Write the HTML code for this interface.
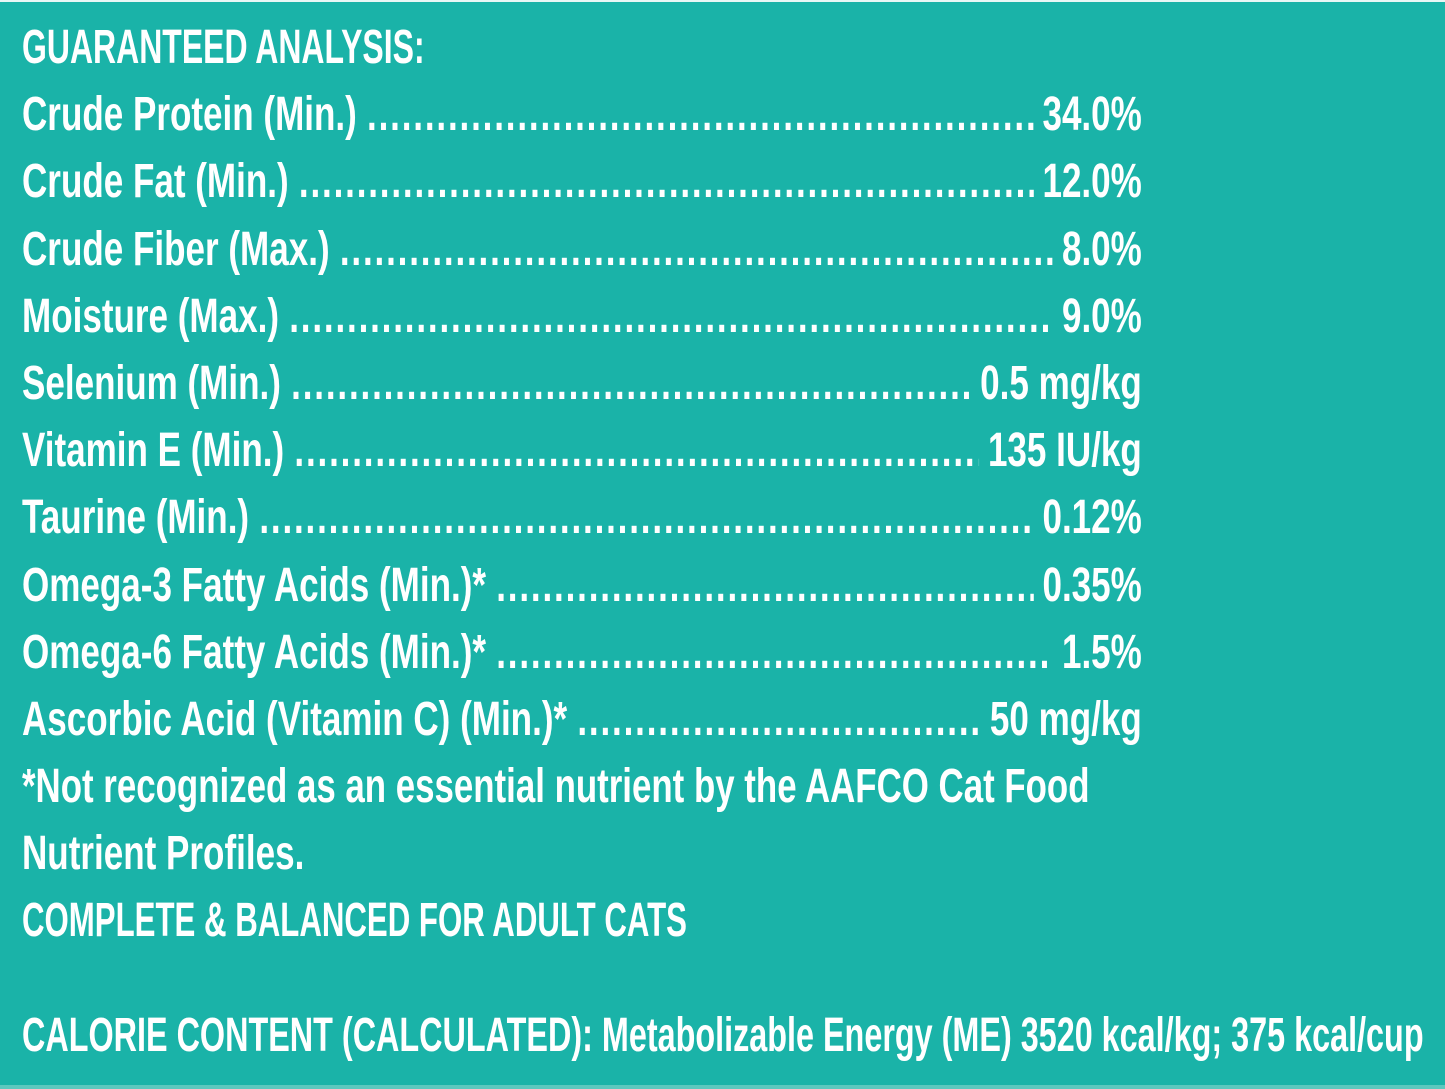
<!DOCTYPE html>
<html><head><meta charset="utf-8"><style>
html,body{margin:0;padding:0;}
body{width:1445px;height:1089px;background:#1ab3a8;position:relative;overflow:hidden;}
.top{position:absolute;left:0;top:0;width:1445px;height:2px;background:#e8f7f5;}
.bot{position:absolute;left:0;top:1085px;width:1445px;height:4px;background:#5cc8be;}
.wrap{position:absolute;left:22px;top:14px;width:1445px;font-family:"Liberation Sans Narrow","Liberation Sans",sans-serif;font-weight:bold;font-size:48px;color:#fff;}
.r{height:67.2px;line-height:67.2px;display:flex;white-space:nowrap;transform-origin:0 0;transform:scaleX(0.73);width:1534px;}
.d{flex:1;overflow:hidden;margin:0 12px 0 14px;letter-spacing:2.5px;}
</style></head><body>
<div class="top"></div>
<div class="wrap">
<div class="r" style="transform:scaleX(0.666)">GUARANTEED ANALYSIS:</div>
<div class="r"><span>Crude Protein (Min.)</span><span class="d">..........................................................................................................................................................</span><span>34.0%</span></div>
<div class="r"><span>Crude Fat (Min.)</span><span class="d">..........................................................................................................................................................</span><span>12.0%</span></div>
<div class="r"><span>Crude Fiber (Max.)</span><span class="d">..........................................................................................................................................................</span><span>8.0%</span></div>
<div class="r"><span>Moisture (Max.)</span><span class="d">..........................................................................................................................................................</span><span>9.0%</span></div>
<div class="r"><span>Selenium (Min.)</span><span class="d">..........................................................................................................................................................</span><span>0.5 mg/kg</span></div>
<div class="r"><span>Vitamin E (Min.)</span><span class="d">..........................................................................................................................................................</span><span>135 IU/kg</span></div>
<div class="r"><span>Taurine (Min.)</span><span class="d">..........................................................................................................................................................</span><span>0.12%</span></div>
<div class="r"><span>Omega-3 Fatty Acids (Min.)*</span><span class="d">..........................................................................................................................................................</span><span>0.35%</span></div>
<div class="r"><span>Omega-6 Fatty Acids (Min.)*</span><span class="d">..........................................................................................................................................................</span><span>1.5%</span></div>
<div class="r"><span>Ascorbic Acid (Vitamin C) (Min.)*</span><span class="d">..........................................................................................................................................................</span><span>50 mg/kg</span></div>
<div class="r" style="transform:scaleX(0.726)">*Not recognized as an essential nutrient by the AAFCO Cat Food</div>
<div class="r" style="transform:scaleX(0.73)">Nutrient Profiles.</div>
<div class="r" style="transform:scaleX(0.65)">COMPLETE &amp; BALANCED FOR ADULT CATS</div>
<div class="r" style="margin-top:47px;transform:scaleX(0.674);width:2200px">CALORIE CONTENT (CALCULATED): Metabolizable Energy (ME) 3520 kcal/kg; 375 kcal/cup</div>
</div>
<div class="bot"></div>
</body></html>
